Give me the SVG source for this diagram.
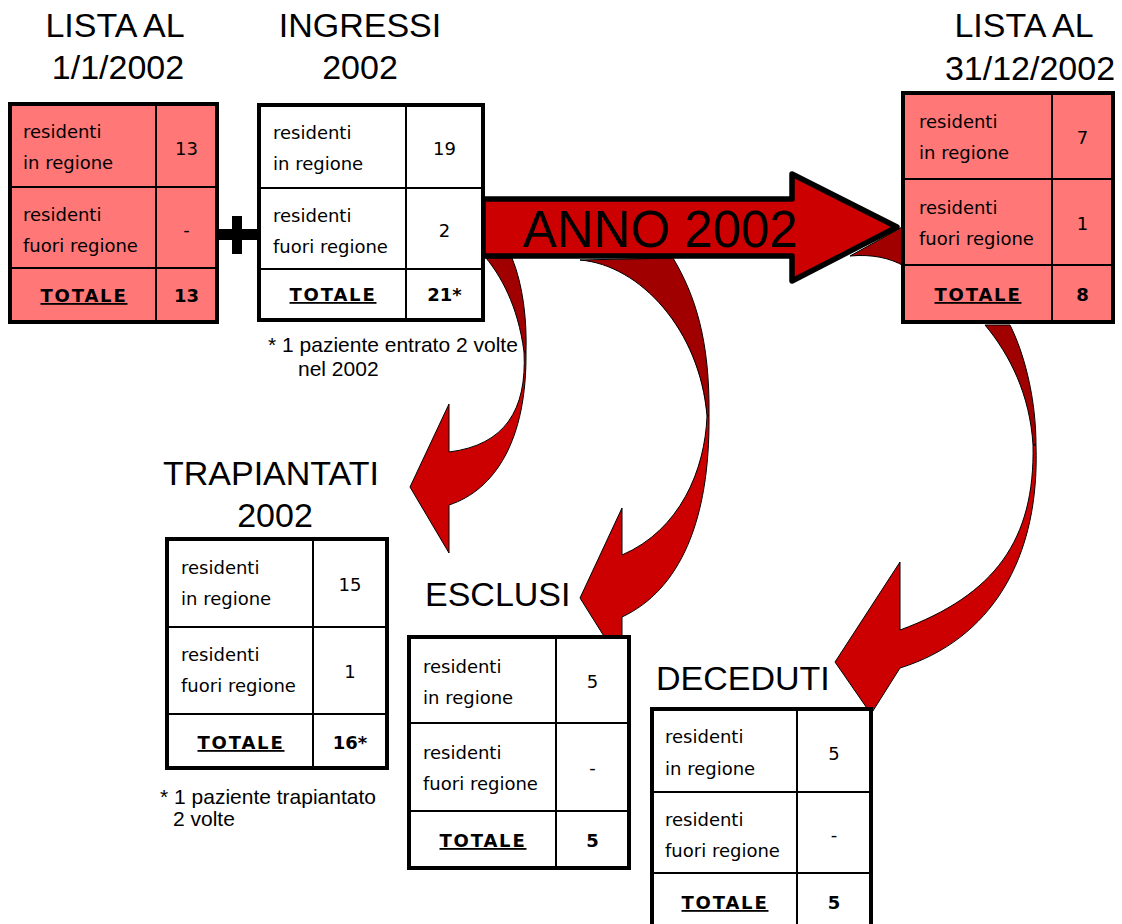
<svg xmlns="http://www.w3.org/2000/svg" width="1122" height="924" viewBox="0 0 1122 924">
<style>
.title{font-family:"Liberation Sans",Arial,sans-serif;font-size:34px;fill:#000}
.cell{font-family:"DejaVu Sans",Tahoma,sans-serif;font-size:18px;fill:#000}
.num{font-family:"DejaVu Sans",Tahoma,sans-serif;font-size:18px;fill:#000;text-anchor:middle}
.tot{font-family:"DejaVu Sans",Verdana,sans-serif;font-size:18px;font-weight:bold;letter-spacing:1.8px;text-anchor:middle;text-decoration:underline;fill:#000}
.totn{font-family:"DejaVu Sans",Verdana,sans-serif;font-size:18px;font-weight:bold;text-anchor:middle;fill:#000}
.note{font-family:"Liberation Sans",Arial,sans-serif;font-size:21px;fill:#000}
.outer{stroke:#000;stroke-width:4}
.pink{fill:#FF7777}
.white{fill:#FFFFFF}
.grid{stroke:#000;stroke-width:2;fill:none}
.dark{fill:#A00000;stroke:#000;stroke-width:1}
.red{fill:#CC0000;stroke:#000;stroke-width:1}
</style>

<g id="connectors">
  <!-- curved arrow to TRAPIANTATI -->
  <path class="dark" d="M486,258 C500,275 518,305 524,352 L526,352 C527,320 523,285 512,258 Z"/>
  <path class="red" d="M524,352 C527,410 505,445 449,452 L449,404 L410,487 L449,553 L449,505 C495,490 527,440 526,352 Z"/>
  <!-- curved arrow to ESCLUSI -->
  <path class="dark" d="M580,260 C640,265 700,330 707,416 L709,416 C710,340 695,295 673,258 Z"/>
  <path class="red" d="M707,416 C705,470 680,530 622,555 L622,508 L580,598 L622,665 L622,617 C680,590 710,520 709,416 Z"/>
  <!-- curved arrow to DECEDUTI -->
  <path class="dark" d="M985,325 C1010,355 1030,395 1033,445 L1036,445 C1036,400 1025,355 1010,325 Z"/>
  <path class="red" d="M1033,445 C1035,540 995,595 900,630 L900,562 L835,662 L871,714 L900,668 C990,640 1040,560 1036,445 Z"/>
  <!-- dark sliver behind big arrow head -->
  <path class="dark" d="M850,256 C872,254 890,258 904,266 L904,226 Z"/>
  <!-- big arrow -->
  <path d="M483,199 L792,199 L792,174 L897,227 L792,281 L792,256 L483,256 Z" fill="#CC0000" stroke="#000" stroke-width="5.5" stroke-linejoin="round"/>
  <text x="523" y="247" font-family="Liberation Sans, Arial, sans-serif" font-size="51" fill="#000">ANNO 2002</text>
</g>

<g id="lista-iniziale">
  <text class="title" x="115" y="37" text-anchor="middle">LISTA AL</text>
  <text class="title" x="118" y="79" text-anchor="middle">1/1/2002</text>
  <rect class="pink outer" x="10" y="104" width="207" height="218"/>
  <path class="grid" d="M156,104 V322 M10,187 H217 M10,268 H217"/>
  <text class="cell" x="23" y="138">residenti</text>
  <text class="cell" x="23" y="169">in regione</text>
  <text class="num" x="186.5" y="155">13</text>
  <text class="cell" x="23" y="221">residenti</text>
  <text class="cell" x="23" y="252">fuori regione</text>
  <text class="num" x="186.5" y="236">-</text>
  <text class="tot" x="84" y="302">TOTALE</text>
  <text class="totn" x="186.5" y="302">13</text>
</g>

<g id="plus">
  <rect x="217" y="229" width="40" height="11" fill="#000"/>
  <rect x="232" y="216" width="10" height="38" fill="#000"/>
</g>

<g id="ingressi">
  <text class="title" x="360" y="37" text-anchor="middle">INGRESSI</text>
  <text class="title" x="360" y="79" text-anchor="middle">2002</text>
  <rect class="white outer" x="259" y="105" width="224" height="215"/>
  <path class="grid" d="M406,105 V320 M259,188 H483 M259,269 H483"/>
  <text class="cell" x="273" y="139">residenti</text>
  <text class="cell" x="273" y="170">in regione</text>
  <text class="num" x="444.5" y="155">19</text>
  <text class="cell" x="273" y="222">residenti</text>
  <text class="cell" x="273" y="253">fuori regione</text>
  <text class="num" x="444.5" y="237">2</text>
  <text class="tot" x="333" y="301">TOTALE</text>
  <text class="totn" x="444.5" y="301">21*</text>
  <text class="note" x="268" y="352">* 1 paziente entrato 2 volte</text>
  <text class="note" x="298" y="376">nel 2002</text>
</g>

<g id="lista-finale">
  <text class="title" x="1024" y="37" text-anchor="middle">LISTA AL</text>
  <text class="title" x="1030" y="80" text-anchor="middle">31/12/2002</text>
  <rect class="pink outer" x="903" y="93" width="210" height="229"/>
  <path class="grid" d="M1052,93 V322 M903,179 H1113 M903,265 H1113"/>
  <text class="cell" x="919" y="128">residenti</text>
  <text class="cell" x="919" y="159">in regione</text>
  <text class="num" x="1082.5" y="144">7</text>
  <text class="cell" x="919" y="214">residenti</text>
  <text class="cell" x="919" y="245">fuori regione</text>
  <text class="num" x="1082.5" y="230">1</text>
  <text class="tot" x="978" y="301">TOTALE</text>
  <text class="totn" x="1082.5" y="301">8</text>
</g>

<g id="trapiantati">
  <text class="title" x="271" y="485" text-anchor="middle">TRAPIANTATI</text>
  <text class="title" x="275" y="527" text-anchor="middle">2002</text>
  <rect class="white outer" x="167" y="539" width="220" height="229"/>
  <path class="grid" d="M313,539 V768 M167,627 H387 M167,714 H387"/>
  <text class="cell" x="181" y="574">residenti</text>
  <text class="cell" x="181" y="605">in regione</text>
  <text class="num" x="350" y="591">15</text>
  <text class="cell" x="181" y="661">residenti</text>
  <text class="cell" x="181" y="692">fuori regione</text>
  <text class="num" x="350" y="678">1</text>
  <text class="tot" x="241" y="749">TOTALE</text>
  <text class="totn" x="350" y="749">16*</text>
  <text class="note" x="160" y="804">* 1 paziente trapiantato</text>
  <text class="note" x="173" y="826">2 volte</text>
</g>

<g id="esclusi">
  <text class="title" x="425" y="606">ESCLUSI</text>
  <rect class="white outer" x="409" y="637" width="220" height="231"/>
  <path class="grid" d="M556,637 V868 M409,723 H629 M409,811 H629"/>
  <text class="cell" x="423" y="673">residenti</text>
  <text class="cell" x="423" y="704">in regione</text>
  <text class="num" x="592.5" y="688">5</text>
  <text class="cell" x="423" y="759">residenti</text>
  <text class="cell" x="423" y="790">fuori regione</text>
  <text class="num" x="592.5" y="774">-</text>
  <text class="tot" x="483" y="847">TOTALE</text>
  <text class="totn" x="592.5" y="847">5</text>
</g>

<g id="deceduti">
  <text class="title" x="656" y="690">DECEDUTI</text>
  <rect class="white outer" x="652" y="709" width="219" height="226"/>
  <path class="grid" d="M797,709 V935 M652,792 H871 M652,873 H871"/>
  <text class="cell" x="665" y="743">residenti</text>
  <text class="cell" x="665" y="775">in regione</text>
  <text class="num" x="834" y="760">5</text>
  <text class="cell" x="665" y="826">residenti</text>
  <text class="cell" x="665" y="857">fuori regione</text>
  <text class="num" x="834" y="841">-</text>
  <text class="tot" x="725" y="909">TOTALE</text>
  <text class="totn" x="834" y="909">5</text>
</g>
</svg>
